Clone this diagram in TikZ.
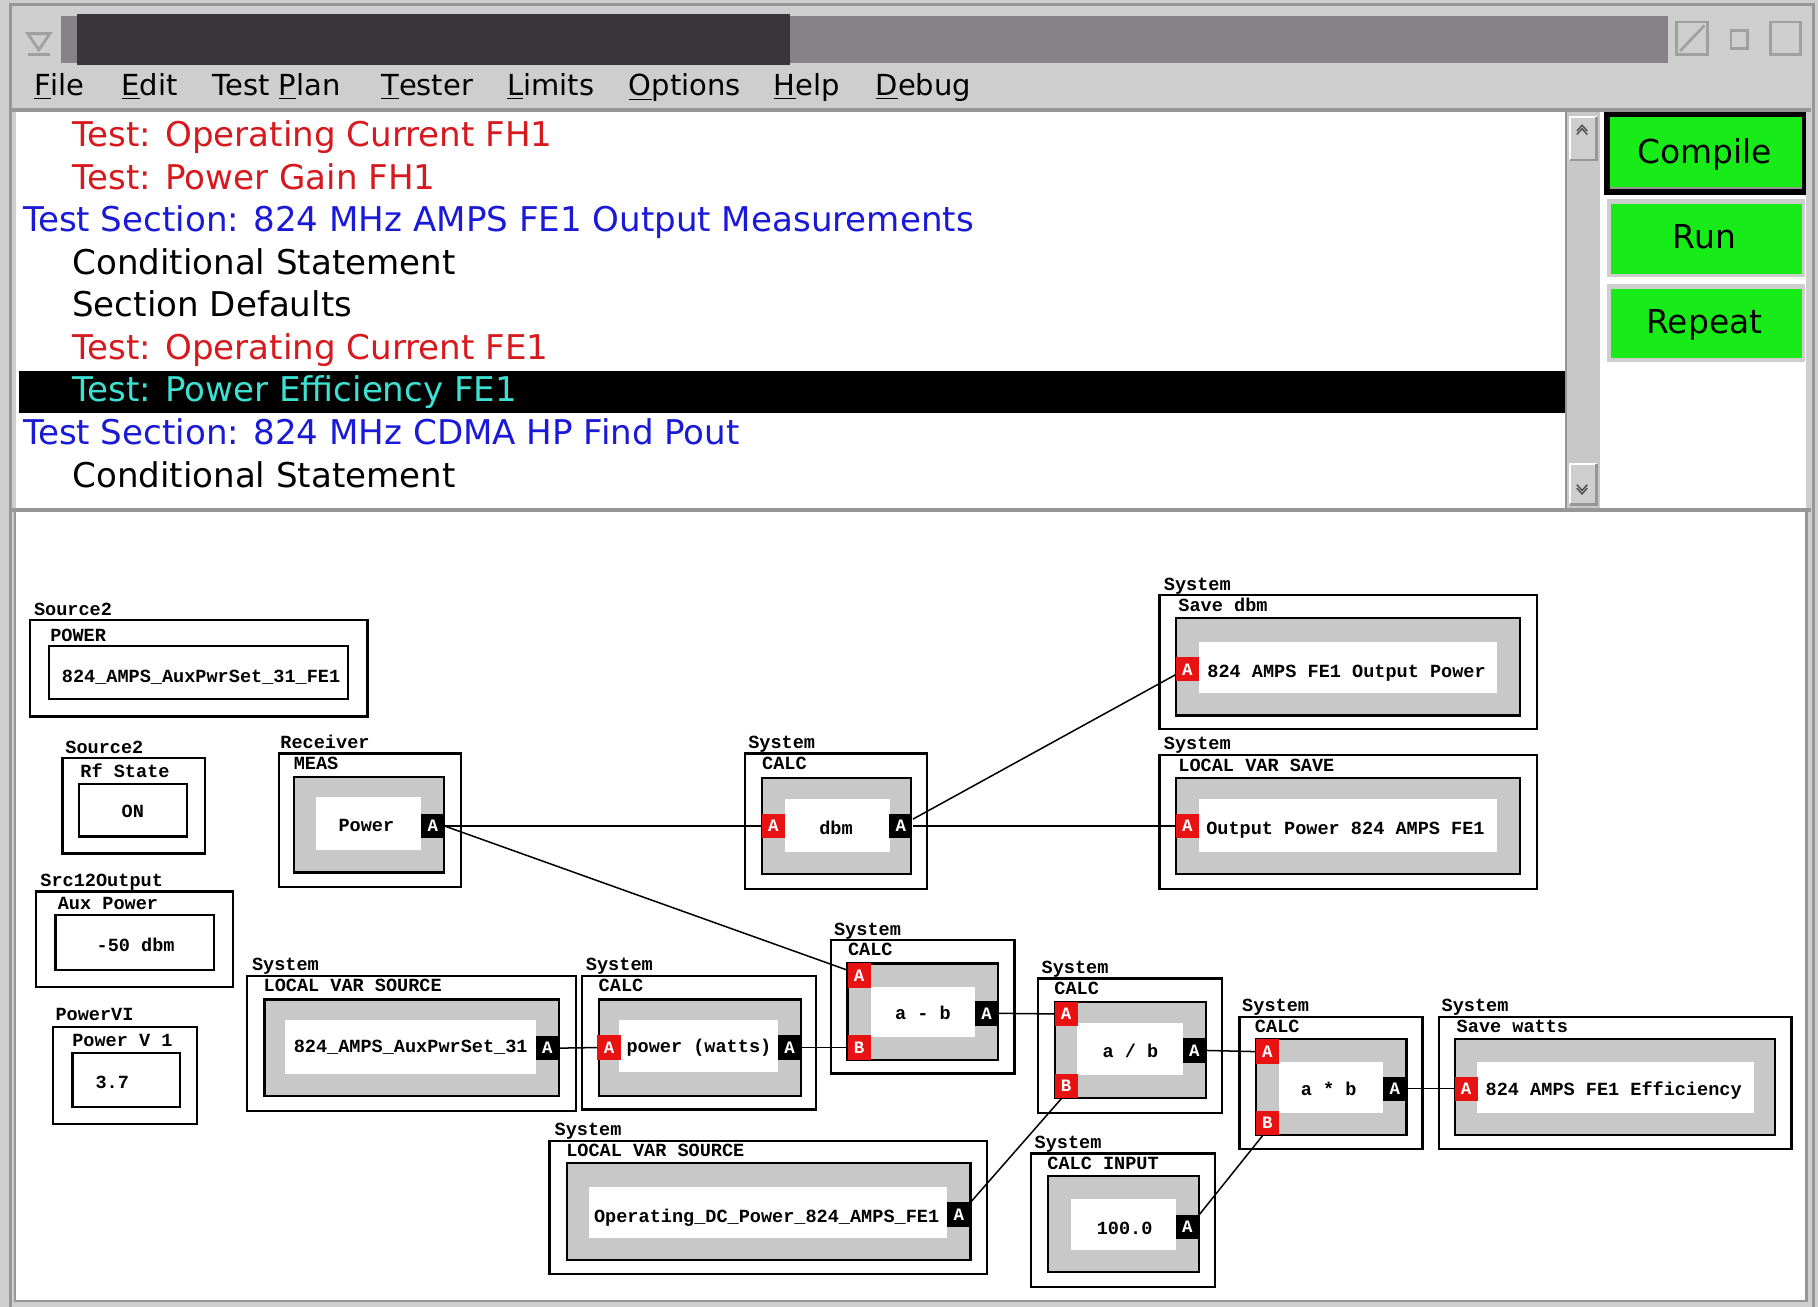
\documentclass[tikz,border=0pt]{standalone}
\usepackage{fontspec}
\setmainfont{DejaVu Sans}
\newfontfamily\monof{Liberation Mono}
\definecolor{ttxred}{RGB}{215,25,30}
\definecolor{ttxblue}{RGB}{25,25,215}
\definecolor{ttxcyan}{RGB}{60,225,210}
\definecolor{wingray}{RGB}{206,206,206}
\definecolor{titlemid}{RGB}{134,130,135}
\definecolor{titledark}{RGB}{56,54,59}
\definecolor{boxgray}{RGB}{200,200,200}
\definecolor{pinred}{RGB}{232,18,18}
\definecolor{btngreen}{RGB}{24,236,24}
\definecolor{edgegray}{RGB}{150,150,150}
\definecolor{icongray}{RGB}{160,160,160}
\begin{document}
\begin{tikzpicture}[x=0.5pt,y=-0.5pt,
  outerb/.style={draw=black, line width=1pt, fill=white},
  grayb/.style={draw=black, line width=1pt, fill=boxgray},
  valb/.style={draw=black, line width=1pt, fill=white},
  cat/.style={font=\monof\bfseries\fontsize{8}{8}\selectfont, anchor=base west, inner sep=0pt},
  txt/.style={font=\monof\bfseries\fontsize{8}{8}\selectfont, anchor=base west, inner sep=0pt},
  txtc/.style={font=\monof\bfseries\fontsize{8}{8}\selectfont, anchor=base, inner sep=0pt},
  pin/.style={inner sep=0pt, minimum width=10pt, minimum height=10.5pt, text=white, font=\monof\bfseries\fontsize{7.5}{7.5}\selectfont},
  pinin/.style={pin, fill=pinred},
  pinout/.style={pin, fill=black},
  wire/.style={draw=black, line width=0.65pt},
  listtxt/.style={font=\fontsize{14.7}{14.7}\selectfont, anchor=base west, inner sep=0pt},
  menutxt/.style={font=\fontsize{12.5}{12.5}\selectfont, anchor=base west, inner sep=0pt},
  btntxt/.style={font=\fontsize{14.2}{14.2}\selectfont, anchor=base, inner sep=0pt},
  icon/.style={draw=icongray, line width=1.2pt}
]
\useasboundingbox (0,0) rectangle (1568,1127);
% window background
\fill[wingray] (0,0) rectangle (1568,1127);
\draw[edgegray, line width=1pt] (9,1127) -- (9,4) -- (1564,4) -- (1564,1127);
% title bar
\fill[titlemid] (53,14) rectangle (1439,54);
\fill[titledark] (66,12) rectangle (681,56);
\draw[icon] (24,29) -- (43,29) -- (33.5,43) -- cycle;
\draw[icon] (24,47) -- (43,47);
\draw[icon] (1446,19) rectangle (1473,47);
\draw[icon] (1449,44) -- (1470,22);
\draw[icon] (1493,26) rectangle (1507,42);
\draw[icon] (1527,19) rectangle (1553,47);
% menu
\node[menutxt] (mFile) at (29,82.5) {\underline{F}ile};
\node[menutxt] (mEdit) at (104.5,82.5) {\underline{E}dit};
\node[menutxt] (mPlan) at (183,82.5) {Test \underline{P}lan};
\node[menutxt] (mTester) at (328.5,82.5) {\underline{T}ester};
\node[menutxt] (mLimits) at (437,82.5) {\underline{L}imits};
\node[menutxt] (mOptions) at (542,82.5) {\underline{O}ptions};
\node[menutxt] (mHelp) at (667,82.5) {\underline{H}elp};
\node[menutxt] (mDebug) at (755,82.5) {\underline{D}ebug};
\draw[edgegray, line width=1.5pt] (10,95) -- (1562,95);
% list area
\fill[white] (14,97) rectangle (1351,438);
\fill[black] (16,320) rectangle (1350,356.5);
\node[listtxt, text=ttxred] (l1) at (62,126.5) {Test: Operating Current FH1};
\node[listtxt, text=ttxred] (l2) at (62,163.3) {Test: Power Gain FH1};
\node[listtxt, text=ttxblue] (l3) at (19.5,199.8) {Test Section: 824 MHz AMPS FE1 Output Measurements};
\node[listtxt] (l4) at (62,236.5) {Conditional Statement};
\node[listtxt] (l5) at (62,273.1) {Section Defaults};
\node[listtxt, text=ttxred] (l6) at (62,310) {Test: Operating Current FE1};
\node[listtxt, text=ttxcyan] (l7) at (62,346.5) {Test: Power Efficiency FE1};
\node[listtxt, text=ttxblue] (l8) at (19.5,383.8) {Test Section: 824 MHz CDMA HP Find Pout};
\node[listtxt] (l9) at (62,420.3) {Conditional Statement};
% scrollbar
\fill[boxgray] (1351,97) rectangle (1380,438);
\draw[edgegray, line width=0.8pt] (1351,97) -- (1351,438);
\fill[wingray] (1354,101) rectangle (1377,138);
\draw[white, line width=1pt] (1354,138) -- (1354,101) -- (1377,101);
\draw[edgegray, line width=1pt] (1354,138) -- (1377,138) -- (1377,101);
\draw[black!70, line width=0.6pt] (1360,113) -- (1364.5,108) -- (1369,113) (1360,116) -- (1364.5,111) -- (1369,116);
\fill[wingray] (1354,400) rectangle (1377,435);
\draw[white, line width=1pt] (1354,435) -- (1354,400) -- (1377,400);
\draw[edgegray, line width=1pt] (1354,435) -- (1377,435) -- (1377,400);
\draw[black!70, line width=0.6pt] (1360,418) -- (1364.5,423) -- (1369,418) (1360,421) -- (1364.5,426) -- (1369,421);
% buttons panel
\fill[white] (1380,97) rectangle (1558,438);
\fill[black] (1383,97) rectangle (1558,168);
\fill[btngreen] (1388.5,101) rectangle (1554.5,163);
\draw[edgegray, line width=1pt] (1388.5,162) -- (1554.5,162);
\node[btntxt] (bCompile) at (1470,141) {Compile};
\fill[wingray] (1386,172) rectangle (1557,239);
\fill[btngreen] (1389.5,176) rectangle (1554,236);
\node[btntxt] (bRun) at (1470,214) {Run};
\fill[wingray] (1386,245) rectangle (1557,312);
\fill[btngreen] (1389.5,249.5) rectangle (1554,309);
\node[btntxt] (bRepeat) at (1470,287.5) {Repeat};
% divider + canvas
\fill[edgegray] (10,438) rectangle (1562,442);
\fill[white] (13,442) rectangle (1558,1122);
\draw[edgegray, line width=1pt] (13,442) -- (13,1122) -- (1558,1122) -- (1558,442);

% ---------- left column ----------
\node[cat] (lA) at (29,531) {Source2};
\draw[outerb] (26,535) rectangle (317,618);
\node[cat] (tA) at (43,553) {POWER};
\draw[valb] (42,557) rectangle (300,603);
\node[txt] (vA) at (53,589) {824\_AMPS\_AuxPwrSet\_31\_FE1};

\node[cat] (lB) at (56,649.5) {Source2};
\draw[outerb] (54,654) rectangle (177,736);
\node[cat] (tB) at (69,670.5) {Rf State};
\draw[valb] (68,676) rectangle (161,721.5);
\node[txtc] (vB) at (114.5,705.5) {ON};

\node[cat] (lC) at (34.5,764.5) {Src12Output};
\draw[outerb] (31,769) rectangle (201,851);
\node[cat] (tC) at (49.5,784) {Aux Power};
\draw[valb] (48,789) rectangle (184.5,836.5);
\node[txtc] (vC) at (117,820.5) {-50 dbm};

\node[cat] (lD) at (47.5,880.5) {PowerVI};
\draw[outerb] (46,886) rectangle (170,969.5);
\node[cat] (tD) at (62,903) {Power V 1};
\draw[valb] (62.5,908) rectangle (155,955);
\node[txt] (vD) at (82,939) {3.7};

% ---------- Receiver ----------
\node[cat] (lE) at (241.5,646) {Receiver};
\draw[outerb] (240.5,650) rectangle (397.5,765);
\node[cat] (tE) at (253,664) {MEAS};
\draw[grayb] (253.5,670) rectangle (383,752.5);
\fill[white] (272.5,687) rectangle (363.5,733.5);
\node[txtc] (vE) at (316,717.5) {Power};

% ---------- CALC dbm ----------
\node[cat] (lF) at (645,646) {System};
\draw[outerb] (642.5,650) rectangle (799.5,767);
\node[cat] (tF) at (657,664) {CALC};
\draw[grayb] (657,671) rectangle (786,754);
\fill[white] (677,689) rectangle (768,735);
\node[txtc] (vF) at (721,720) {dbm};

% ---------- Save dbm ----------
\node[cat] (lG) at (1003.5,509) {System};
\draw[outerb] (1000,513) rectangle (1325.5,629);
\node[cat] (tG) at (1016,527.5) {Save dbm};
\draw[grayb] (1014,533) rectangle (1311,617);
\fill[white] (1034,553.5) rectangle (1291,597.5);
\node[txt] (vG) at (1041,584) {824 AMPS FE1 Output Power};

% ---------- LOCAL VAR SAVE ----------
\node[cat] (lH) at (1003.5,646.5) {System};
\draw[outerb] (1000,651) rectangle (1325.5,767);
\node[cat] (tH) at (1016,665.5) {LOCAL VAR SAVE};
\draw[grayb] (1014,671) rectangle (1311,754);
\fill[white] (1034,689) rectangle (1291,735);
\node[txt] (vH) at (1040,720) {Output Power 824 AMPS FE1};

% ---------- LOCAL VAR SOURCE 1 ----------
\node[cat] (lI) at (217,837) {System};
\draw[outerb] (213,842) rectangle (497,958);
\node[cat] (tI) at (227,855.5) {LOCAL VAR SOURCE};
\draw[grayb] (228,862) rectangle (482,945);
\fill[white] (246,880) rectangle (462,926);
\node[txt] (vI) at (253,908) {824\_AMPS\_AuxPwrSet\_31};

% ---------- CALC power (watts) ----------
\node[cat] (lJ) at (505,837) {System};
\draw[outerb] (502,842) rectangle (704,957);
\node[cat] (tJ) at (516,855.5) {CALC};
\draw[grayb] (516.5,862) rectangle (691,945);
\fill[white] (534,880) rectangle (671,925);
\node[txt] (vJ) at (540,908) {power (watts)};

% ---------- CALC a - b ----------
\node[cat] (lK) at (719,806.5) {System};
\draw[outerb] (717,811) rectangle (875,926);
\node[cat] (tK) at (731,824.5) {CALC};
\draw[grayb] (731,831) rectangle (861,914);
\fill[white] (751,851) rectangle (841,894);
\node[txtc] (vK) at (796,879.5) {a - b};

% ---------- CALC a / b ----------
\node[cat] (lL) at (898,839.5) {System};
\draw[outerb] (895,844) rectangle (1054,960);
\node[cat] (tL) at (909,857.5) {CALC};
\draw[grayb] (910,864) rectangle (1040,947);
\fill[white] (929,882) rectangle (1020,927);
\node[txtc] (vL) at (975,912) {a / b};

% ---------- LOCAL VAR SOURCE 2 ----------
\node[cat] (lM) at (478,979.5) {System};
\draw[outerb] (474,984) rectangle (851,1099);
\node[cat] (tM) at (488,997.5) {LOCAL VAR SOURCE};
\draw[grayb] (489,1003) rectangle (837,1087);
\fill[white] (508,1024) rectangle (817,1068);
\node[txt] (vM) at (512,1054) {Operating\_DC\_Power\_824\_AMPS\_FE1};

% ---------- CALC INPUT ----------
\node[cat] (lN) at (892,990.5) {System};
\draw[outerb] (889,995) rectangle (1048,1110);
\node[cat] (tN) at (903,1008.5) {CALC INPUT};
\draw[grayb] (904,1014) rectangle (1034,1097);
\fill[white] (924,1034) rectangle (1014,1078);
\node[txtc] (vN) at (970,1065) {100.0};

% ---------- CALC a * b ----------
\node[cat] (lO) at (1071,872.5) {System};
\draw[outerb] (1069,877) rectangle (1227,991);
\node[cat] (tO) at (1082,890.5) {CALC};
\draw[grayb] (1083,896) rectangle (1213,979);
\fill[white] (1103,916) rectangle (1193,960);
\node[txtc] (vO) at (1146,945) {a * b};

% ---------- Save watts ----------
\node[cat] (lP) at (1243,872.5) {System};
\draw[outerb] (1241,877) rectangle (1545,991);
\node[cat] (tP) at (1256,890.5) {Save watts};
\draw[grayb] (1255,896) rectangle (1531,979);
\fill[white] (1274,916) rectangle (1513,960);
\node[txt] (vP) at (1281,945) {824 AMPS FE1 Efficiency};

% ---------- ports ----------
\node[pinout] (recvout) at (373.25,712.5) {A};
\node[pinin]  (dbmin)   at (667,712.5) {A};
\node[pinout] (dbmout)  at (777,712.5) {A};
\node[pinin]  (sdbmin)  at (1024,577.25) {A};
\node[pinin]  (lvsin)   at (1024,712.5) {A};
\node[pinout] (lvs1out) at (472,904) {A};
\node[pinin]  (pwin)    at (525.25,903.5) {A};
\node[pinout] (pwout)   at (681,903.5) {A};
\node[pinin]  (abA)     at (741,841.5) {A};
\node[pinin]  (abB)     at (741,903.5) {B};
\node[pinout] (abo)     at (851,874) {A};
\node[pinin]  (adA)     at (919.5,874.5) {A};
\node[pinin]  (adB)     at (919.5,936.5) {B};
\node[pinout] (ado)     at (1030,906) {A};
\node[pinout] (lvs2out) at (827,1047.5) {A};
\node[pinout] (ciout)   at (1024,1058.5) {A};
\node[pinin]  (mulA)    at (1093,907) {A};
\node[pinin]  (mulB)    at (1093,968.5) {B};
\node[pinout] (mulo)    at (1203,939) {A};
\node[pinin]  (swin)    at (1264.5,939) {A};

% ---------- connectors ----------
\draw[wire] (recvout.east) -- (dbmin.west);
\draw[wire] (recvout.east) -- (abA.155);
\draw[wire] (dbmout.30) -- (sdbmin.205);
\draw[wire] (dbmout.east) -- (lvsin.west);
\draw[wire] (lvs1out.east) -- (pwin.west);
\draw[wire] (pwout.east) -- (abB.west);
\draw[wire] (abo.east) -- (adA.west);
\draw[wire] (lvs2out.north east) -- (adB.250);
\draw[wire] (ado.east) -- (mulA.west);
\draw[wire] (ciout.north east) -- (mulB.250);
\draw[wire] (mulo.east) -- (swin.west);
\end{tikzpicture}
\end{document}
